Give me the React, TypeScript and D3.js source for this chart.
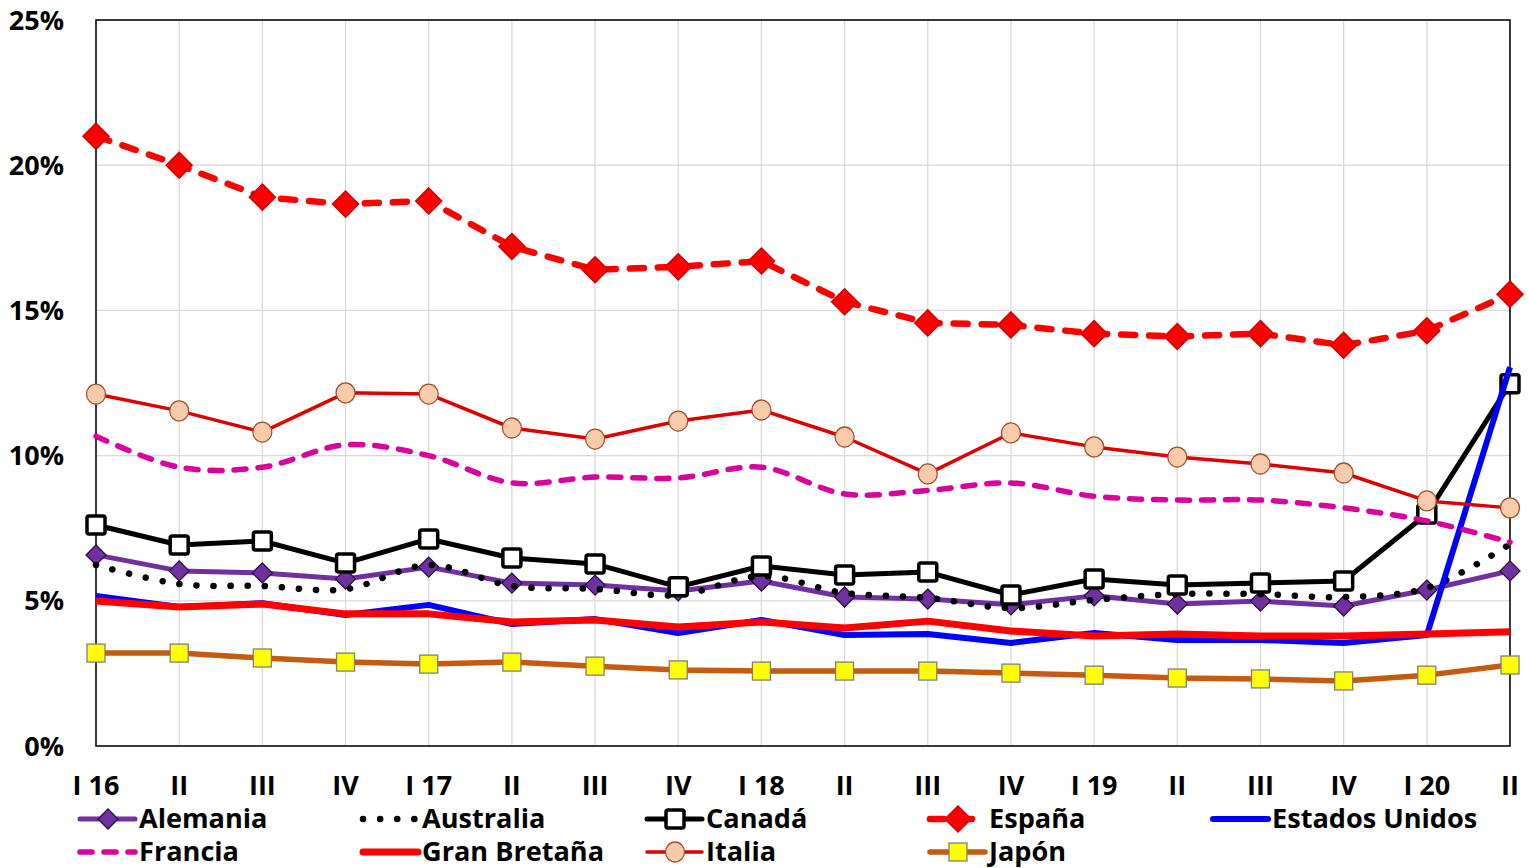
import React from "react";
import * as d3 from "d3";

const categories = ["I 16","II","III","IV","I 17","II","III","IV","I 18","II","III","IV","I 19","II","III","IV","I 20","II"];
const yTicks = [0, 5, 10, 15, 20, 25];

const alemania = [6.58,6.03,5.96,5.75,6.16,5.61,5.54,5.34,5.68,5.13,5.06,4.86,5.17,4.89,4.99,4.82,5.37,6.03];
const australia = [6.23,5.58,5.51,5.4,6.23,5.51,5.41,5.2,5.85,5.27,5.1,4.75,5.03,5.23,5.23,5.13,5.44,6.95];
const canada = [7.61,6.92,7.06,6.3,7.13,6.47,6.27,5.48,6.2,5.89,5.99,5.2,5.75,5.54,5.61,5.68,7.99,12.47];
const espana = [21.0,20.0,18.9,18.66,18.77,17.2,16.4,16.5,16.7,15.3,14.57,14.5,14.2,14.1,14.2,13.8,14.3,15.56];
const eeuu = [5.17,4.79,4.92,4.51,4.86,4.2,4.37,3.89,4.34,3.82,3.86,3.55,3.89,3.65,3.65,3.55,3.82,13.05];
const francia = [10.67,9.6,9.6,10.37,10.0,9.06,9.26,9.23,9.6,8.68,8.8,9.06,8.6,8.47,8.47,8.2,7.75,7.02];
const granBretana = [4.99,4.79,4.89,4.55,4.55,4.27,4.34,4.1,4.27,4.06,4.3,3.96,3.79,3.86,3.79,3.79,3.86,3.93];
const italia = [12.12,11.54,10.81,12.16,12.12,10.95,10.57,11.19,11.57,10.64,9.37,10.78,10.3,9.95,9.71,9.4,8.44,8.2];
const japon = [3.2,3.2,3.03,2.89,2.82,2.89,2.75,2.62,2.58,2.58,2.58,2.51,2.44,2.34,2.31,2.24,2.44,2.79];

type Marker = "none" | "diamondS" | "diamondL" | "square" | "squareY" | "circle";
interface Series {
  name: string; values: number[]; color: string; width: number;
  dash?: string; cap?: string; marker: Marker; smooth?: boolean;
}

const series: Series[] = [
  { name: "Alemania", values: alemania, color: "#7030A0", width: 5, marker: "diamondS" },
  { name: "Australia", values: australia, color: "#000000", width: 6.5, dash: "0.1 17", cap: "round", marker: "none", smooth: true },
  { name: "Canadá", values: canada, color: "#000000", width: 5, marker: "square" },
  { name: "España", values: espana, color: "#FF0000", width: 6.5, dash: "14 14", cap: "round", marker: "diamondL" },
  { name: "Estados Unidos", values: eeuu, color: "#0000FF", width: 6, marker: "none" },
  { name: "Francia", values: francia, color: "#D9009B", width: 5.5, dash: "12 12", cap: "round", marker: "none", smooth: true },
  { name: "Gran Bretaña", values: granBretana, color: "#FF0000", width: 7, marker: "none" },
  { name: "Italia", values: italia, color: "#DD0000", width: 3.5, marker: "circle" },
  { name: "Japón", values: japon, color: "#C55A11", width: 5.5, marker: "squareY" },
];

const W = 1529, H = 868;
const L = 96, R = 1510, T = 20, B = 746;
const FONT = "'Open Sans', Lato, sans-serif";

function drawMarker(m: Marker, x: number, y: number, key: string) {
  switch (m) {
    case "diamondS":
      return <path key={key} d={`M${x},${y - 10}L${x + 10},${y}L${x},${y + 10}L${x - 10},${y}Z`} fill="#7030A0" stroke="#2b1040" strokeWidth={1.3} />;
    case "diamondL":
      return <path key={key} d={`M${x},${y - 13}L${x + 13},${y}L${x},${y + 13}L${x - 13},${y}Z`} fill="#FF0000" stroke="#D00000" strokeWidth={1.5} />;
    case "square":
      return <rect key={key} x={x - 9} y={y - 9} width={18} height={18} rx={2} fill="#FFFFFF" stroke="#000000" strokeWidth={3.5} />;
    case "squareY":
      return <rect key={key} x={x - 9} y={y - 9} width={18} height={18} fill="#FFFF00" stroke="#7f7f7f" strokeWidth={1.3} />;
    case "circle":
      return <ellipse key={key} cx={x} cy={y} rx={9.5} ry={10} fill="#F8CBAD" stroke="#A0522D" strokeWidth={1.3} />;
    default:
      return null;
  }
}

export default function App() {
  const x = d3.scalePoint<number>().domain(d3.range(categories.length)).range([L, R]);
  const y = d3.scaleLinear().domain([0, 25]).range([B, T]);

  const lineLinear = d3.line<number>().x((_, i) => x(i)!).y((v) => y(v));
  const lineSmooth = d3.line<number>().x((_, i) => x(i)!).y((v) => y(v)).curve(d3.curveCatmullRom.alpha(0.5));

  const legendCols = [80, 363, 647, 930, 1213];
  const legendRows = [819, 852];

  return (
    <svg width={W} height={H} style={{ display: "block", position: "absolute", left: 0, top: 0 }} fontFamily={FONT}>
      <rect x={0} y={0} width={W} height={H} fill="#FFFFFF" />
      {/* grid */}
      {yTicks.map((t) => (
        <line key={"hg" + t} x1={L} x2={R} y1={y(t)} y2={y(t)} stroke="#D9D9D9" strokeWidth={1.3} />
      ))}
      {categories.map((_, i) => (
        <line key={"vg" + i} x1={x(i)} x2={x(i)} y1={T} y2={B} stroke="#D9D9D9" strokeWidth={1.3} />
      ))}
      {/* frame */}
      <rect x={L} y={T} width={R - L} height={B - T} fill="none" stroke="#000000" strokeWidth={1.5} />

      {/* y labels */}
      {yTicks.map((t) => (
        <text key={"yl" + t} x={64} y={y(t) + 9.5} textAnchor="end" fontSize={27} fontWeight={700} fill="#000">{t}%</text>
      ))}
      {/* x labels */}
      {categories.map((c, i) => (
        <text key={"xl" + i} x={x(i)} y={795} textAnchor="middle" fontSize={27} fontWeight={700} fill="#000">{c}</text>
      ))}

      {/* series */}
      {series.map((s) => (
        <g key={s.name}>
          <path d={(s.smooth ? lineSmooth : lineLinear)(s.values) || ""} fill="none" stroke={s.color}
            strokeWidth={s.width} strokeDasharray={s.dash} strokeLinecap={(s.cap as any) || "butt"} strokeLinejoin="round" />
          {s.marker !== "none" && s.values.map((v, i) => drawMarker(s.marker, x(i)!, y(v), s.name + i))}
        </g>
      ))}

      {/* legend */}
      {series.map((s, k) => {
        const col = k < 5 ? k : k - 5;
        const row = k < 5 ? 0 : 1;
        const lx = legendCols[col];
        const ly = legendRows[row];
        return (
          <g key={"lg" + s.name}>
            <line x1={lx} x2={lx + 55} y1={ly} y2={ly} stroke={s.color} strokeWidth={s.width}
              strokeDasharray={s.dash} strokeLinecap={(s.cap as any) || "round"} />
            {s.marker !== "none" && drawMarker(s.marker, lx + 28, ly, "lm" + k)}
            <text transform={`translate(${lx + 59},${ly + 8.5}) scale(1.13,1.08)`} fontSize={24} fontWeight={700} fill="#000">{s.name}</text>
          </g>
        );
      })}
    </svg>
  );
}
